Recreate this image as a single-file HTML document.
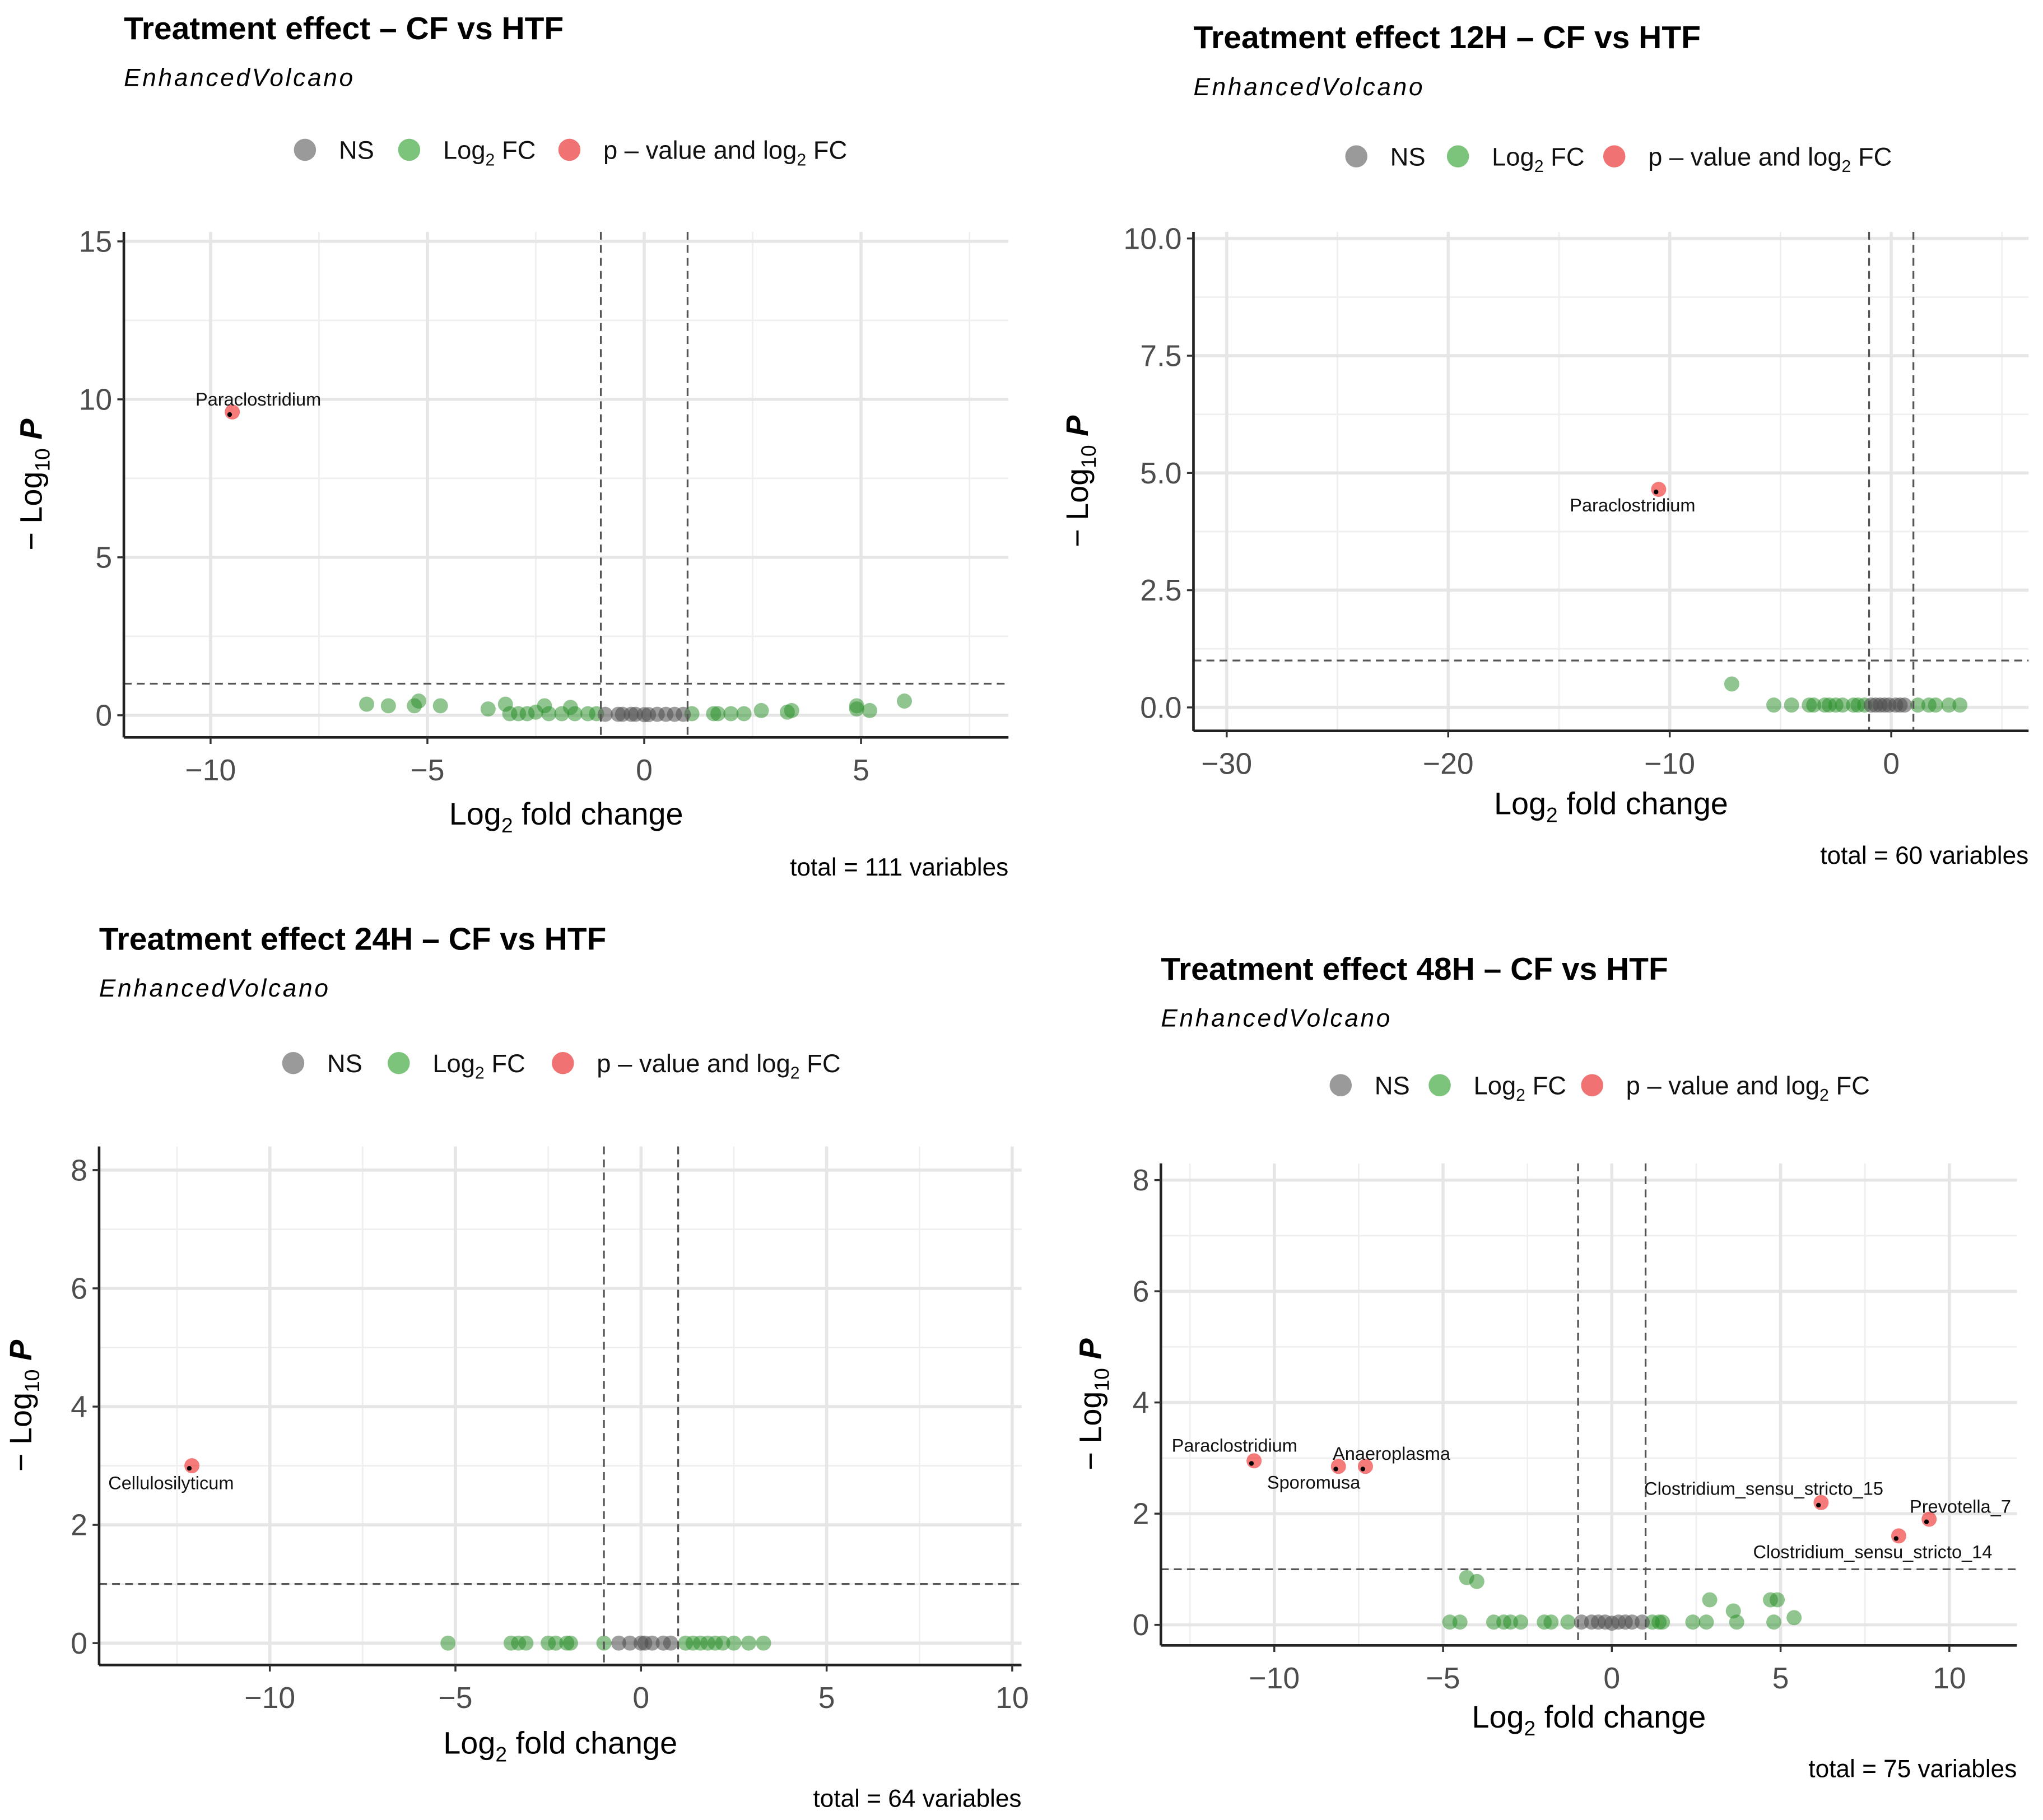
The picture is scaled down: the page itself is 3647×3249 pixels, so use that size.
<!DOCTYPE html>
<html><head><meta charset="utf-8">
<style>
html,body{margin:0;padding:0;background:#fff;}
svg{display:block;}
text{font-family:"Liberation Sans",Arial,sans-serif;}
</style></head>
<body>
<svg id="root" xmlns="http://www.w3.org/2000/svg" width="3647" height="3249" viewBox="0 0 1568 1397"></svg>
<script>
// ---- Panel 1 data ----
const p1GreenX=[-6.4,-5.9,-5.3,-5.2,-4.7,-3.6,-3.2,-3.1,-2.9,-2.7,-2.5,-2.3,-2.2,-1.9,-1.7,-1.6,-1.3,-1.1,1.1,1.6,1.7,2.0,2.3,2.7,3.3,3.4,4.9,4.9,5.2,6.0];
const p1GreenY=[0.35,0.3,0.3,0.45,0.3,0.2,0.35,0.05,0.05,0.05,0.1,0.3,0.05,0.05,0.25,0.05,0.05,0.05,0.05,0.05,0.05,0.05,0.05,0.15,0.1,0.15,0.3,0.2,0.15,0.45];
const p1GreyX=[-0.9,-0.6,-0.5,-0.3,-0.2,0,0.1,0.3,0.5,0.7,0.9];
const p1GreyY=[0.03,0.03,0.03,0.03,0.03,0.02,0.02,0.03,0.03,0.03,0.03];
const p1RedX=[-9.5];
const p1RedY=[9.6];
const p1RedLabels=["Paraclostridium"];
const p1XTicks=[-10,-5,0,5];
const p1YTicks=[0,5,10,15];
// ---- Panel 2 data ----
const p2GreenX=[-7.2,-5.3,-4.5,-3.7,-3.5,-3.0,-2.8,-2.5,-2.2,-1.7,-1.5,-1.2,1.2,1.7,2.0,2.6,3.1];
const p2GreenY=[0.5,0.05,0.05,0.05,0.05,0.05,0.05,0.05,0.05,0.05,0.05,0.05,0.05,0.05,0.05,0.05,0.05];
const p2GreyX=[-0.9,-0.7,-0.5,-0.3,-0.1,0.2,0.4,0.6];
const p2GreyY=[0.05,0.05,0.05,0.05,0.05,0.05,0.05,0.05];
const p2RedX=[-10.5];
const p2RedY=[4.65];
const p2RedLabels=["Paraclostridium"];
const p2XTicks=[-30,-20,-10,0];
const p2YTicks=[0,2.5,5,7.5,10];
const p2YTickLabels=["0.0","2.5","5.0","7.5","10.0"];
// ---- Panel 3 data ----
const p3GreenX=[-5.2,-3.5,-3.3,-3.1,-2.5,-2.3,-2.0,-1.9,-1.0,1.2,1.4,1.6,1.8,2.0,2.2,2.5,2.9,3.3];
const p3GreenY=[0,0,0,0,0,0,0,0,0,0,0,0,0,0,0,0,0,0];
const p3GreyX=[-0.6,-0.3,0,0.1,0.3,0.6,0.8];
const p3GreyY=[0,0,0,0,0,0,0];
const p3RedX=[-12.1];
const p3RedY=[3.0];
const p3RedLabels=["Cellulosilyticum"];
const p3XTicks=[-10,-5,0,5,10];
const p3YTicks=[0,2,4,6,8];
// ---- Panel 4 data ----
const p4GreenX=[-4.3,-4.0,-4.8,-4.5,-3.5,-3.2,-3.0,-2.7,-2.0,-1.8,-1.3,1.2,1.4,1.5,2.4,2.8,2.9,3.6,3.7,4.7,4.9,4.8,5.4];
const p4GreenY=[0.85,0.78,0.05,0.05,0.05,0.05,0.05,0.05,0.05,0.05,0.05,0.05,0.05,0.05,0.05,0.05,0.45,0.25,0.05,0.45,0.45,0.05,0.13];
const p4GreyX=[-0.9,-0.6,-0.4,-0.2,0,0.2,0.4,0.6,0.9];
const p4GreyY=[0.05,0.05,0.05,0.05,0.03,0.05,0.05,0.05,0.05];
const p4RedX=[-10.6,-8.1,-7.3,6.2,9.4,8.5];
const p4RedY=[2.95,2.85,2.85,2.2,1.9,1.6];
const p4RedLabels=["Paraclostridium","Sporomusa","Anaeroplasma","Clostridium_sensu_stricto_15","Prevotella_7","Clostridium_sensu_stricto_14"];
const p4XTicks=[-10,-5,0,5,10];
const p4YTicks=[0,2,4,6,8];

const NS="http://www.w3.org/2000/svg";
const root=document.getElementById('root');
function mk(tag,attrs,parent,txt){const e=document.createElementNS(NS,tag);for(const k in attrs)e.setAttribute(k,attrs[k]);if(txt!==undefined)e.textContent=txt;(parent||root).appendChild(e);return e;}
function fmt(v){return v<0?'\u2212'+Math.abs(v):String(v);}

function panel(cfg){
  const g=mk('g',{});
  
  
  const L=cfg.px0,R=cfg.px1,T=cfg.py0,B=cfg.py1;
  const sx=v=>L+(v-cfg.x0)/(cfg.x1-cfg.x0)*(R-L);
  const sy=v=>B-(v-cfg.y0)/(cfg.y1-cfg.y0)*(B-T);
  const t=mk('text',{x:cfg.tx,y:cfg.ty,'font-size':24.5,'font-weight':'bold',fill:'#000'},g,cfg.title);
  
  const st=mk('text',{x:cfg.tx,y:cfg.ty+36,'font-size':19,'font-style':'italic',fill:'#000','letter-spacing':'1.6'},g,'EnhancedVolcano');
  
  const lg=mk('g',{},g);
  
  const ly=cfg.ly;
  const items=[['#9a9a9a','NS',null],['#7cc47c','Log',' FC'],['#f07272','p \u2013 value and log',' FC']];
  items.forEach((it,i)=>{
    const cx=cfg.lx[i];
    const c=mk('circle',{cx:cx,cy:ly,r:8.5,fill:it[0]},lg);
    
    const tx=mk('text',{x:cx+26,y:ly+7,'font-size':19.5,fill:'#111'},lg);
    
    if(it[2]===null){tx.textContent=it[1];}
    else{mk('tspan',{},tx,it[1]);mk('tspan',{'font-size':13,dy:5},tx,'2');mk('tspan',{dy:-5},tx,it[2]);}
  });
  const minorY=[],minorX=[];
  const ys=cfg.yt[1]-cfg.yt[0], xs=cfg.xt[1]-cfg.xt[0];
  for(let v=cfg.yt[0]-ys/2;v<=cfg.y1;v+=ys) if(v>=cfg.y0) minorY.push(v);
  for(let v=cfg.xt[0]-xs*5.5;v<=cfg.x1;v+=xs) if(v>=cfg.x0) minorX.push(v);
  const xmaj=[];for(let v=cfg.xt[0]-xs*5;v<=cfg.x1;v+=xs) if(v>=cfg.x0) xmaj.push(v);
  minorY.forEach(v=>{const l=mk('line',{x1:L,x2:R,y1:sy(v),y2:sy(v),stroke:'#efefef','stroke-width':1.2},g);});
  minorX.forEach(v=>{const l=mk('line',{x1:sx(v),x2:sx(v),y1:T,y2:B,stroke:'#efefef','stroke-width':1.2},g);});
  cfg.yt.forEach(v=>{const l=mk('line',{x1:L,x2:R,y1:sy(v),y2:sy(v),stroke:'#e6e6e6','stroke-width':2.4},g);});
  xmaj.forEach(v=>{const l=mk('line',{x1:sx(v),x2:sx(v),y1:T,y2:B,stroke:'#e6e6e6','stroke-width':2.4},g);});
  function pts(X,Y,fill,name,op){X.forEach((x,i)=>{const c=mk('circle',{cx:sx(x),cy:sy(Y[i]),r:5.8,fill:fill,'fill-opacity':op},g);});}
  pts(cfg.gx,cfg.gy,'#228b22','point-log2fc',0.5);
  pts(cfg.nx,cfg.ny,'#4d4d4d','point-ns',0.55);
  pts(cfg.rx,cfg.ry,'#ee2222','point-significant',0.6);
  cfg.rl.forEach((lab,i)=>{
    const o=cfg.lo[i];
    const x=sx(cfg.rx[i]),y=sy(cfg.ry[i]);
    const tx=mk('text',{x:x+o[0],y:y+o[1],'font-size':14,fill:'#111','text-anchor':o[2]||'middle'},g,lab);
    
    const a=mk('circle',{cx:x-2,cy:y+2,r:1.8,fill:'#000'},g);
    
  });
  [-1,1].forEach(v=>{const l=mk('line',{x1:sx(v),x2:sx(v),y1:T,y2:B,stroke:'#555','stroke-width':1.4,'stroke-dasharray':'6,4'},g);});
  {const l=mk('line',{x1:L,x2:R,y1:sy(1),y2:sy(1),stroke:'#555','stroke-width':1.4,'stroke-dasharray':'6,4'},g);}
  const ax=mk('line',{x1:L,x2:R,y1:B,y2:B,stroke:'#222','stroke-width':2},g);
  const ay=mk('line',{x1:L,x2:L,y1:T,y2:B,stroke:'#222','stroke-width':2},g);
  cfg.xt.forEach(v=>{
    const tk=mk('line',{x1:sx(v),x2:sx(v),y1:B,y2:B+5,stroke:'#333','stroke-width':1.5},g);
    const tl=mk('text',{x:sx(v),y:B+33,'font-size':23,fill:'#4d4d4d','text-anchor':'middle'},g,fmt(v));
  });
  cfg.yt.forEach((v,i)=>{
    const tk=mk('line',{x1:L-5,x2:L,y1:sy(v),y2:sy(v),stroke:'#333','stroke-width':1.5},g);
    const tl=mk('text',{x:L-9,y:sy(v)+8,'font-size':23,fill:'#4d4d4d','text-anchor':'end'},g,cfg.ytl?cfg.ytl[i]:fmt(v));
  });
  const xt=mk('text',{x:(L+R)/2,y:cfg.xty,'font-size':24,fill:'#000','text-anchor':'middle'},g);
  
  mk('tspan',{},xt,'Log');mk('tspan',{'font-size':16,dy:6},xt,'2');mk('tspan',{dy:-6},xt,' fold change');
  const yt=mk('text',{x:0,y:0,'font-size':24,fill:'#000','text-anchor':'middle',transform:`translate(${cfg.ytx},${(T+B)/2}) rotate(-90)`},g);
  
  mk('tspan',{},yt,'\u2212 Log');mk('tspan',{'font-size':16,dy:6},yt,'10');mk('tspan',{dy:-6,'font-style':'italic','font-weight':'bold'},yt,' P');
  const tot=mk('text',{x:R,y:cfg.toty,'font-size':19,fill:'#000','text-anchor':'end'},g,cfg.total);
  
}

panel({name:'panel-overall',title:'Treatment effect \u2013 CF vs HTF',tx:95,ty:30,ly:115,lx:[234,314,437],
  px0:95,px1:774,py0:178,py1:566,x0:-12,x1:8.4,y0:-0.7,y1:15.3,xt:p1XTicks,yt:p1YTicks,
  gx:p1GreenX,gy:p1GreenY,nx:p1GreyX,ny:p1GreyY,rx:p1RedX,ry:p1RedY,rl:p1RedLabels,lo:[[20,-5]],
  xty:633,ytx:32,toty:672,total:'total = 111 variables'});
panel({name:'panel-12h',title:'Treatment effect 12H \u2013 CF vs HTF',tx:916,ty:37,ly:120,lx:[1041,1119,1239],
  px0:916,px1:1557,py0:178,py1:561,x0:-31.5,x1:6.2,y0:-0.5,y1:10.14,xt:p2XTicks,yt:p2YTicks,ytl:p2YTickLabels,
  gx:p2GreenX,gy:p2GreenY,nx:p2GreyX,ny:p2GreyY,rx:p2RedX,ry:p2RedY,rl:p2RedLabels,lo:[[-20,17]],
  xty:625,ytx:835,toty:663,total:'total = 60 variables'});
panel({name:'panel-24h',title:'Treatment effect 24H \u2013 CF vs HTF',tx:76,ty:729,ly:816,lx:[225,306,432],
  px0:76,px1:784,py0:880,py1:1278,x0:-14.6,x1:10.25,y0:-0.37,y1:8.4,xt:p3XTicks,yt:p3YTicks,
  gx:p3GreenX,gy:p3GreenY,nx:p3GreyX,ny:p3GreyY,rx:p3RedX,ry:p3RedY,rl:p3RedLabels,lo:[[-16,18]],
  xty:1346,ytx:24,toty:1387,total:'total = 64 variables'});
panel({name:'panel-48h',title:'Treatment effect 48H \u2013 CF vs HTF',tx:891,ty:752,ly:833,lx:[1029,1105,1222],
  px0:891,px1:1548,py0:893,py1:1263,x0:-13.36,x1:12.0,y0:-0.37,y1:8.3,xt:p4XTicks,yt:p4YTicks,
  gx:p4GreenX,gy:p4GreenY,nx:p4GreyX,ny:p4GreyY,rx:p4RedX,ry:p4RedY,rl:p4RedLabels,
  lo:[[-15,-7],[-19,17],[20,-5],[-44,-6],[24,-5],[-20,17]],
  xty:1326,ytx:845,toty:1364,total:'total = 75 variables'});
</script>
</body></html>
